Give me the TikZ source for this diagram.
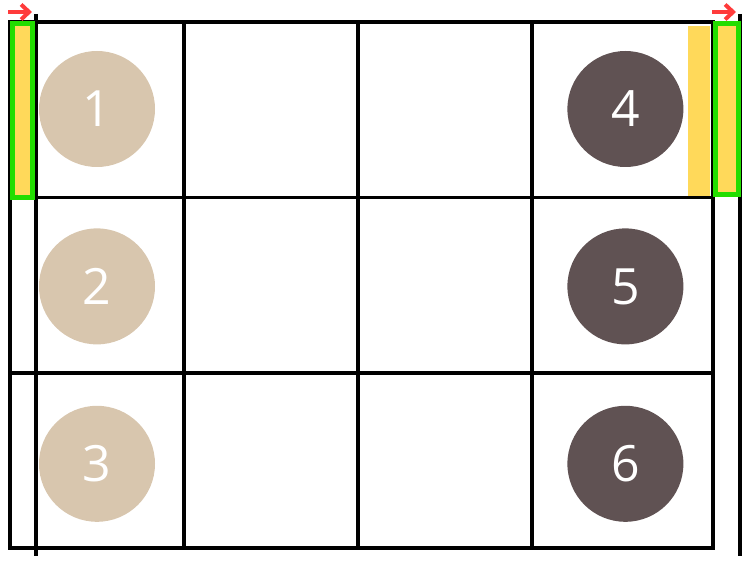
\documentclass[tikz,border=0pt]{standalone}
\usepackage{fontspec}
\setmainfont{Open Sans}
\usepackage{tikz}
\usetikzlibrary{arrows.meta,positioning}

\definecolor{sand}{HTML}{D8C6AE}
\definecolor{umber}{HTML}{605253}
\definecolor{mark}{HTML}{FFD95A}
\definecolor{frame}{HTML}{22DD00}
\definecolor{pointer}{HTML}{FF3B3B}

\begin{document}
\begin{tikzpicture}[
    x=1pt,y=-1pt,
    node distance=61pt and 412pt,
    seat/.style={circle,inner sep=0pt,minimum size=116pt,text=white,
                 font=\fontsize{50}{50}\selectfont},
    light/.style={seat,fill=sand},
    dark/.style={seat,fill=umber},
    grid line/.style={draw=black,line width=3.5pt},
    band/.style={fill=mark,draw=none},
    box frame/.style={draw=frame,line width=4.5pt,fill=mark},
    shift arrow/.style={-{Straight Barb[length=8pt,width=15pt]},draw=pointer,line width=4pt}
]
\useasboundingbox (0,0) rectangle (752,561);

% table
\draw[grid line] (10,22) rectangle (713,548);
\draw[grid line] (10,197.5) -- (713,197.5);
\draw[grid line] (10,373) -- (713,373);
\foreach \cx in {184,358,532}
  \draw[grid line] (\cx,22) -- (\cx,548);
\draw[grid line] (36,14) -- (36,556);
\draw[grid line] (740,14) -- (740,556);

% highlights
\fill[band] (688,26) rectangle (710,196);
\draw[box frame] (12.5,23.5) rectangle (32.5,197.5);
\draw[box frame] (715.5,23.5) rectangle (738.5,194.5);

% seats
\node[light] (p1) at (97,109) {1};
\node[light,below=of p1] (p2) {2};
\node[light,below=of p2] (p3) {3};
\node[dark,right=of p1] (p4) {4};
\node[dark,below=of p4] (p5) {5};
\node[dark,below=of p5] (p6) {6};

% moves
\coordinate (l0) at (8,12);
\coordinate (l1) at (32,12);
\coordinate (r0) at (712,12);
\coordinate (r1) at (736,12);
\draw[shift arrow] (l0) -- (l1);
\draw[shift arrow] (r0) -- (r1);
\end{tikzpicture}
\end{document}
